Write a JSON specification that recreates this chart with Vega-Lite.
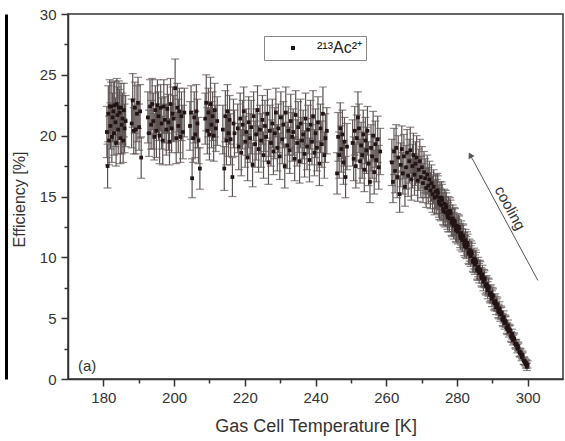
{
"$schema": "https://vega.github.io/schema/vega-lite/v6.json",
"width": 495,
"height": 365,
"autosize": {"type": "none"},
"padding": {"left": 68, "top": 14, "right": 2, "bottom": 62},
"background": "white",
"data": {"values": [
{"x":181.0,"y":20.3,"e":2.1},{"x":181.2,"y":17.5,"e":1.8},{"x":181.4,"y":21.8,"e":2.3},{"x":181.6,"y":19.6,"e":2.0},{"x":181.8,"y":22.4,"e":2.2},{"x":182.0,"y":20.8,"e":1.9},{"x":182.2,"y":22.4,"e":2.0},{"x":182.4,"y":19.9,"e":2.1},{"x":182.6,"y":21.5,"e":2.0},{"x":182.8,"y":22.0,"e":2.4},{"x":183.0,"y":20.2,"e":1.8},{"x":183.2,"y":22.5,"e":2.0},{"x":183.4,"y":21.1,"e":2.0},{"x":183.6,"y":19.4,"e":1.9},{"x":183.8,"y":22.6,"e":2.1},{"x":184.0,"y":21.7,"e":2.3},{"x":184.2,"y":20.5,"e":2.0},{"x":184.4,"y":22.3,"e":2.2},{"x":184.6,"y":21.9,"e":1.9},{"x":184.8,"y":19.8,"e":2.1},{"x":185.0,"y":22.3,"e":2.0},{"x":185.2,"y":20.9,"e":2.4},{"x":185.4,"y":21.4,"e":2.1},{"x":185.6,"y":19.6,"e":1.8},{"x":185.8,"y":22.1,"e":2.2},{"x":186.0,"y":20.6,"e":2.0},{"x":186.3,"y":21.2,"e":2.1},
{"x":188.0,"y":21.0,"e":2.0},{"x":188.3,"y":22.9,"e":2.2},{"x":188.6,"y":20.4,"e":1.9},{"x":188.9,"y":22.3,"e":2.1},{"x":189.2,"y":20.5,"e":2.0},{"x":189.5,"y":21.8,"e":2.3},{"x":189.8,"y":22.7,"e":2.1},{"x":190.1,"y":20.7,"e":1.9},{"x":190.4,"y":22.0,"e":2.2},{"x":190.7,"y":18.2,"e":1.7},
{"x":192.6,"y":21.5,"e":2.1},{"x":192.9,"y":20.2,"e":1.9},{"x":193.2,"y":22.4,"e":2.2},{"x":193.5,"y":20.9,"e":2.0},{"x":193.8,"y":22.6,"e":2.1},{"x":194.1,"y":21.2,"e":2.3},{"x":194.4,"y":19.9,"e":1.9},{"x":194.7,"y":22.1,"e":2.0},{"x":195.0,"y":20.4,"e":2.2},{"x":195.3,"y":22.5,"e":2.1},{"x":195.6,"y":21.6,"e":2.0},{"x":195.9,"y":20.0,"e":2.3},{"x":196.2,"y":22.3,"e":1.9},{"x":196.5,"y":21.0,"e":2.1},{"x":196.8,"y":19.6,"e":2.0},{"x":197.1,"y":22.4,"e":2.2},{"x":197.4,"y":21.3,"e":1.9},{"x":197.8,"y":20.5,"e":2.1},{"x":198.1,"y":22.2,"e":2.0},{"x":198.4,"y":21.1,"e":2.3},{"x":198.7,"y":19.5,"e":1.9},{"x":199.0,"y":22.6,"e":2.1},{"x":199.3,"y":20.6,"e":2.0},{"x":199.6,"y":21.8,"e":2.2},{"x":199.9,"y":21.4,"e":1.9},{"x":200.3,"y":23.9,"e":2.4},{"x":200.6,"y":19.8,"e":2.1},{"x":200.9,"y":22.3,"e":2.0},{"x":201.2,"y":20.8,"e":2.2},{"x":201.5,"y":22.0,"e":1.9},{"x":201.8,"y":19.9,"e":2.1},{"x":202.1,"y":21.6,"e":2.0},{"x":202.5,"y":20.3,"e":2.2},{"x":202.9,"y":21.9,"e":2.0},
{"x":204.5,"y":20.8,"e":2.0},{"x":204.8,"y":21.9,"e":2.2},{"x":205.1,"y":16.5,"e":1.6},{"x":205.4,"y":19.8,"e":2.0},{"x":205.7,"y":21.5,"e":2.1},{"x":206.0,"y":20.1,"e":1.9},{"x":206.3,"y":22.0,"e":2.2},{"x":206.6,"y":21.0,"e":2.0},{"x":206.9,"y":19.6,"e":1.9},{"x":207.3,"y":17.3,"e":1.7},
{"x":208.8,"y":21.4,"e":2.1},{"x":209.1,"y":22.7,"e":2.3},{"x":209.4,"y":20.4,"e":1.9},{"x":209.7,"y":21.9,"e":2.0},{"x":210.0,"y":20.1,"e":2.1},{"x":210.3,"y":22.6,"e":2.2},{"x":210.6,"y":20.9,"e":1.9},{"x":210.9,"y":21.6,"e":2.0},{"x":211.2,"y":20.0,"e":2.1},{"x":211.5,"y":22.1,"e":2.2},{"x":211.8,"y":20.6,"e":1.9},{"x":212.2,"y":21.2,"e":2.0},
{"x":213.8,"y":20.5,"e":2.0},{"x":214.2,"y":17.3,"e":1.8},{"x":214.5,"y":21.6,"e":2.1},{"x":214.8,"y":19.6,"e":2.0},{"x":215.1,"y":22.0,"e":2.2},{"x":215.4,"y":20.2,"e":1.9},{"x":215.7,"y":21.3,"e":2.0},{"x":216.0,"y":19.7,"e":2.1},{"x":216.5,"y":16.6,"e":1.6},{"x":216.8,"y":21.0,"e":2.0},{"x":217.1,"y":20.2,"e":1.9},
{"x":218.0,"y":20.6,"e":2.0},{"x":218.3,"y":19.1,"e":1.9},{"x":218.7,"y":21.4,"e":2.1},{"x":219.0,"y":18.6,"e":1.9},{"x":219.4,"y":20.9,"e":2.0},{"x":219.7,"y":22.0,"e":2.0},{"x":220.1,"y":19.5,"e":2.1},{"x":220.4,"y":20.3,"e":1.9},{"x":220.8,"y":18.2,"e":1.9},{"x":221.1,"y":21.1,"e":2.1},{"x":221.5,"y":19.8,"e":2.0},{"x":221.8,"y":20.7,"e":2.2},{"x":222.2,"y":17.6,"e":1.8},{"x":222.5,"y":21.6,"e":2.0},{"x":222.9,"y":19.3,"e":1.9},{"x":223.2,"y":20.1,"e":2.1},{"x":223.6,"y":22.1,"e":2.0},{"x":223.9,"y":18.9,"e":1.9},{"x":224.3,"y":20.5,"e":2.0},{"x":224.6,"y":19.6,"e":2.2},{"x":225.0,"y":21.3,"e":2.0},{"x":225.3,"y":18.4,"e":1.9},{"x":225.7,"y":20.8,"e":2.1},{"x":226.0,"y":19.9,"e":2.0},{"x":226.4,"y":21.8,"e":2.0},{"x":226.7,"y":17.8,"e":1.8},{"x":227.1,"y":20.4,"e":2.1},{"x":227.4,"y":19.4,"e":1.9},{"x":227.8,"y":21.0,"e":2.0},{"x":228.1,"y":18.7,"e":1.9},{"x":228.5,"y":20.2,"e":2.1},{"x":228.8,"y":21.9,"e":2.0},{"x":229.2,"y":19.0,"e":1.9},{"x":229.5,"y":20.6,"e":2.0},{"x":229.9,"y":18.3,"e":1.9},{"x":230.2,"y":21.5,"e":2.1},{"x":230.6,"y":19.7,"e":2.0},{"x":230.9,"y":20.9,"e":1.9},{"x":231.3,"y":17.5,"e":1.8},{"x":231.6,"y":21.9,"e":2.1},{"x":232.0,"y":19.2,"e":1.9},{"x":232.3,"y":20.4,"e":2.0},{"x":232.7,"y":18.8,"e":1.9},{"x":233.0,"y":21.2,"e":2.2},{"x":233.4,"y":19.9,"e":2.0},{"x":233.7,"y":20.3,"e":1.9},{"x":234.1,"y":18.1,"e":1.8},{"x":234.4,"y":21.7,"e":2.0},{"x":234.8,"y":19.4,"e":1.9},{"x":235.1,"y":20.7,"e":2.1},{"x":235.5,"y":17.9,"e":1.8},{"x":235.8,"y":21.0,"e":2.0},{"x":236.2,"y":19.6,"e":1.9},{"x":236.5,"y":20.1,"e":2.0},{"x":236.9,"y":18.5,"e":1.9},{"x":237.2,"y":21.4,"e":2.1},{"x":237.6,"y":19.1,"e":1.9},{"x":237.9,"y":20.5,"e":2.0},{"x":238.3,"y":18.0,"e":1.8},{"x":238.6,"y":20.9,"e":2.0},{"x":239.0,"y":19.5,"e":1.9},{"x":239.3,"y":21.6,"e":2.1},{"x":239.7,"y":18.6,"e":1.9},{"x":240.0,"y":20.2,"e":2.0},{"x":240.4,"y":19.0,"e":1.9},{"x":240.7,"y":21.1,"e":2.1},{"x":241.1,"y":17.7,"e":1.8},{"x":241.4,"y":20.6,"e":2.0},{"x":241.8,"y":19.3,"e":1.9},{"x":242.1,"y":21.8,"e":2.2},{"x":242.5,"y":18.4,"e":1.9},{"x":242.8,"y":19.8,"e":2.0},{"x":243.2,"y":20.4,"e":1.9},
{"x":246.1,"y":16.9,"e":1.7},{"x":246.4,"y":19.9,"e":2.0},{"x":246.7,"y":18.4,"e":1.9},{"x":247.0,"y":20.6,"e":2.1},{"x":247.3,"y":18.9,"e":1.9},{"x":247.6,"y":20.1,"e":2.0},{"x":247.9,"y":17.8,"e":1.8},{"x":248.2,"y":19.5,"e":2.0},{"x":248.5,"y":16.6,"e":1.7},{"x":248.9,"y":19.1,"e":1.9},
{"x":250.5,"y":19.4,"e":1.9},{"x":250.8,"y":18.1,"e":1.8},{"x":251.1,"y":20.4,"e":2.0},{"x":251.4,"y":17.5,"e":1.8},{"x":251.7,"y":19.8,"e":1.9},{"x":252.0,"y":21.5,"e":2.1},{"x":252.3,"y":20.6,"e":2.0},{"x":252.6,"y":17.9,"e":1.8},{"x":252.9,"y":19.2,"e":1.9},{"x":253.2,"y":18.4,"e":1.9},{"x":253.5,"y":20.1,"e":2.0},{"x":253.8,"y":17.2,"e":1.8},{"x":254.1,"y":19.6,"e":1.9},{"x":254.4,"y":18.8,"e":1.9},{"x":254.7,"y":20.4,"e":2.0},{"x":255.0,"y":17.7,"e":1.8},{"x":255.4,"y":16.2,"e":1.7},{"x":255.7,"y":19.0,"e":1.9},{"x":256.0,"y":18.3,"e":1.8},{"x":256.3,"y":20.0,"e":2.0},{"x":256.6,"y":17.0,"e":1.8},{"x":256.9,"y":19.3,"e":1.9},{"x":257.2,"y":18.0,"e":1.8},{"x":257.6,"y":19.7,"e":1.9},{"x":257.9,"y":17.4,"e":1.8},{"x":258.3,"y":18.7,"e":1.9},
{"x":261.6,"y":17.8,"e":1.9},{"x":261.9,"y":16.2,"e":1.7},{"x":262.2,"y":18.7,"e":1.9},{"x":262.5,"y":17.1,"e":1.8},{"x":262.8,"y":19.0,"e":1.9},{"x":263.1,"y":16.6,"e":1.7},{"x":263.4,"y":18.2,"e":1.8},{"x":263.8,"y":15.2,"e":1.5},{"x":264.1,"y":17.6,"e":1.8},{"x":264.4,"y":18.9,"e":1.9},{"x":264.7,"y":16.9,"e":1.7},{"x":265.0,"y":18.3,"e":1.8},{"x":265.3,"y":15.8,"e":1.6},{"x":265.6,"y":17.4,"e":1.8},{"x":265.9,"y":18.6,"e":1.9},{"x":266.2,"y":16.7,"e":1.7},{"x":266.5,"y":17.9,"e":1.8},{"x":266.8,"y":18.8,"e":1.9},{"x":267.1,"y":16.4,"e":1.7},{"x":267.4,"y":17.5,"e":1.8},{"x":267.7,"y":18.4,"e":1.8},{"x":268.0,"y":16.8,"e":1.7},{"x":268.3,"y":17.7,"e":1.8},{"x":268.6,"y":18.2,"e":1.8},{"x":268.9,"y":16.3,"e":1.7},{"x":269.2,"y":17.2,"e":1.7},{"x":269.5,"y":17.9,"e":1.8},{"x":269.8,"y":16.6,"e":1.7},{"x":270.1,"y":17.4,"e":1.7},{"x":270.4,"y":16.1,"e":1.6},{"x":270.7,"y":17.0,"e":1.7},{"x":271.0,"y":16.5,"e":1.6},{"x":271.3,"y":15.7,"e":1.6},{"x":271.6,"y":16.8,"e":1.6},{"x":271.9,"y":15.9,"e":1.5},{"x":272.2,"y":16.4,"e":1.5},{"x":272.5,"y":15.5,"e":1.5},{"x":272.8,"y":16.1,"e":1.5},{"x":273.1,"y":15.2,"e":1.5},{"x":273.4,"y":15.8,"e":1.4},{"x":273.7,"y":14.9,"e":1.4},{"x":274.0,"y":15.4,"e":1.4},
{"x":274.3,"y":15.0,"e":1.4},{"x":274.6,"y":15.3,"e":1.4},{"x":274.9,"y":14.6,"e":1.3},{"x":275.2,"y":14.9,"e":1.3},{"x":275.5,"y":14.3,"e":1.3},{"x":275.8,"y":14.7,"e":1.3},{"x":276.1,"y":14.0,"e":1.3},{"x":276.4,"y":14.4,"e":1.2},{"x":276.7,"y":13.7,"e":1.2},{"x":277.0,"y":14.1,"e":1.2},{"x":277.3,"y":13.5,"e":1.2},{"x":277.6,"y":13.8,"e":1.2},{"x":277.9,"y":13.2,"e":1.1},{"x":278.2,"y":13.6,"e":1.1},{"x":278.5,"y":12.9,"e":1.1},{"x":278.8,"y":13.2,"e":1.1},{"x":279.1,"y":12.6,"e":1.1},{"x":279.4,"y":12.9,"e":1.1},{"x":279.7,"y":12.3,"e":1.0},{"x":280.0,"y":12.6,"e":1.0},
{"x":280.3,"y":12.1,"e":1.0},{"x":280.6,"y":12.4,"e":1.0},{"x":280.9,"y":11.8,"e":1.0},{"x":281.2,"y":12.0,"e":1.0},{"x":281.5,"y":11.4,"e":0.95},{"x":281.8,"y":11.7,"e":0.95},{"x":282.1,"y":11.1,"e":0.95},{"x":282.4,"y":11.4,"e":0.9},{"x":282.7,"y":10.8,"e":0.9},{"x":283.0,"y":11.0,"e":0.9},{"x":283.3,"y":10.4,"e":0.9},{"x":283.6,"y":10.6,"e":0.9},{"x":283.9,"y":10.1,"e":0.85},{"x":284.2,"y":10.3,"e":0.85},{"x":284.5,"y":9.7,"e":0.85},{"x":284.8,"y":9.9,"e":0.85},{"x":285.1,"y":9.4,"e":0.8},{"x":285.4,"y":9.6,"e":0.8},{"x":285.7,"y":9.0,"e":0.8},{"x":286.0,"y":9.2,"e":0.8},{"x":286.3,"y":8.7,"e":0.8},{"x":286.6,"y":8.9,"e":0.75},{"x":286.9,"y":8.4,"e":0.75},{"x":287.2,"y":8.6,"e":0.75},{"x":287.5,"y":8.0,"e":0.75},{"x":287.8,"y":8.2,"e":0.7},{"x":288.1,"y":7.7,"e":0.7},{"x":288.4,"y":7.8,"e":0.7},{"x":288.7,"y":7.3,"e":0.7},{"x":289.0,"y":7.5,"e":0.7},{"x":289.3,"y":7.0,"e":0.65},{"x":289.6,"y":7.1,"e":0.65},{"x":289.9,"y":6.6,"e":0.65},{"x":290.2,"y":6.8,"e":0.6},{"x":290.5,"y":6.3,"e":0.6},{"x":290.8,"y":6.4,"e":0.6},{"x":291.1,"y":5.9,"e":0.6},{"x":291.4,"y":6.1,"e":0.55},{"x":291.7,"y":5.6,"e":0.55},{"x":292.0,"y":5.8,"e":0.55},{"x":292.3,"y":5.3,"e":0.55},{"x":292.6,"y":5.4,"e":0.5},{"x":292.9,"y":4.9,"e":0.5},{"x":293.2,"y":5.1,"e":0.5},{"x":293.5,"y":4.6,"e":0.5},{"x":293.8,"y":4.7,"e":0.45},{"x":294.1,"y":4.2,"e":0.45},{"x":294.4,"y":4.4,"e":0.45},{"x":294.7,"y":3.9,"e":0.45},{"x":295.0,"y":4.0,"e":0.4},{"x":295.3,"y":3.5,"e":0.4},{"x":295.6,"y":3.7,"e":0.4},{"x":295.9,"y":3.2,"e":0.4},{"x":296.2,"y":3.3,"e":0.4},{"x":296.5,"y":2.9,"e":0.35},{"x":296.8,"y":2.9,"e":0.35},{"x":297.1,"y":2.5,"e":0.35},{"x":297.4,"y":2.6,"e":0.35},{"x":297.7,"y":2.2,"e":0.35},{"x":298.0,"y":2.2,"e":0.3},{"x":298.3,"y":1.8,"e":0.3},{"x":298.6,"y":1.9,"e":0.3},{"x":298.9,"y":1.5,"e":0.3},{"x":299.2,"y":1.4,"e":0.3},{"x":299.5,"y":1.2,"e":0.3},{"x":299.8,"y":1.0,"e":0.3},{"x":300.0,"y":1.2,"e":0.3},
{"x":274.45,"y":15.5,"e":1.4},{"x":275.05,"y":14.4,"e":1.3},{"x":275.65,"y":14.9,"e":1.3},{"x":276.25,"y":13.8,"e":1.2},{"x":276.85,"y":14.3,"e":1.2},{"x":277.45,"y":13.3,"e":1.2},{"x":278.05,"y":13.8,"e":1.1},{"x":278.65,"y":12.8,"e":1.1},{"x":279.25,"y":13.0,"e":1.1},{"x":279.85,"y":12.2,"e":1.0},{"x":280.45,"y":12.5,"e":1.0},{"x":281.05,"y":11.6,"e":1.0},{"x":281.65,"y":11.8,"e":0.95},{"x":282.25,"y":10.9,"e":0.9},{"x":282.85,"y":11.2,"e":0.9},{"x":283.45,"y":10.3,"e":0.9},{"x":284.05,"y":10.5,"e":0.85},{"x":284.65,"y":9.6,"e":0.85},{"x":285.25,"y":9.8,"e":0.8},{"x":285.85,"y":8.9,"e":0.8},{"x":286.45,"y":9.0,"e":0.75},{"x":287.05,"y":8.3,"e":0.75},{"x":287.65,"y":8.3,"e":0.7},{"x":288.25,"y":7.6,"e":0.7},{"x":288.85,"y":7.6,"e":0.7},{"x":289.45,"y":6.9,"e":0.65},{"x":290.05,"y":6.9,"e":0.6},{"x":290.65,"y":6.2,"e":0.6},{"x":291.25,"y":6.2,"e":0.55},{"x":291.85,"y":5.5,"e":0.55},{"x":292.45,"y":5.5,"e":0.5},{"x":293.05,"y":4.8,"e":0.5},{"x":293.65,"y":4.8,"e":0.45},{"x":294.25,"y":4.1,"e":0.45},{"x":294.85,"y":4.1,"e":0.4},{"x":295.45,"y":3.4,"e":0.4},{"x":296.05,"y":3.4,"e":0.4},{"x":296.65,"y":2.8,"e":0.35},{"x":297.25,"y":2.7,"e":0.35},{"x":297.85,"y":2.1,"e":0.3},{"x":298.45,"y":2.0,"e":0.3},{"x":299.05,"y":1.5,"e":0.3},{"x":299.65,"y":1.3,"e":0.3}
]},
"layer": [
{"mark": {"type": "errorbar", "ticks": true, "size": 8, "thickness": 1.2, "color": "#5c5252"},
 "encoding": {
  "x": {"field": "x", "type": "quantitative", "axis": null},
  "y": {"field": "y", "type": "quantitative", "axis": null},
  "yError": {"field": "e"}}},
{"mark": {"type": "point", "shape": "square", "filled": true, "size": 14, "color": "#221414", "opacity": 1},
 "encoding": {
  "x": {"field": "x", "type": "quantitative",
   "scale": {"domain": [170, 310], "nice": false, "zero": false},
   "axis": {"orient": "bottom", "values": [180, 200, 220, 240, 260, 280, 300], "title": "Gas Cell Temperature [K]", "tickSize": 7, "labelPadding": 4, "labelFontSize": 15, "titleFontSize": 18, "domainWidth": 1.5, "tickWidth": 1.5, "titleY": 38, "labelFlush": false}},
  "y": {"field": "y", "type": "quantitative",
   "scale": {"domain": [0, 30], "nice": false, "zero": false},
   "axis": {"orient": "left", "values": [0, 5, 10, 15, 20, 25, 30], "title": "Efficiency [%]", "tickSize": 7, "labelPadding": 5, "labelFontSize": 15, "titleFontSize": 16, "domainWidth": 1.5, "tickWidth": 1.5, "titleX": -41, "titleY": 185, "labelFlush": false}},
  "shape": {"datum": "²¹³Ac²⁺", "type": "nominal", "scale": {"range": ["square"]},
   "legend": {"title": null, "orient": "none", "legendX": 196, "legendY": 22, "strokeColor": "#888", "fillColor": "white", "padding": 4, "symbolOffset": 17, "labelOffset": 16, "symbolSize": 16, "symbolFillColor": "#221414", "symbolStrokeColor": "#221414", "symbolStrokeWidth": 0, "labelFontSize": 16, "labelFont": "Liberation Sans", "labelColor": "#222"}}}},
{"data": {"values": [{}]},
 "mark": {"type": "rule", "color": "#555", "strokeWidth": 1},
 "encoding": {
  "x": {"datum": 302.9, "type": "quantitative", "axis": {"orient": "bottom", "values": [190, 210, 230, 250, 270, 290], "labels": false, "tickSize": 4, "tickWidth": 1.5, "domain": false, "title": null, "grid": false}},
  "y": {"datum": 8.1, "type": "quantitative", "axis": {"orient": "left", "values": [2.5, 7.5, 12.5, 17.5, 22.5, 27.5], "labels": false, "tickSize": 4, "tickWidth": 1.5, "domain": false, "title": null, "grid": false}},
  "x2": {"datum": 283.6},
  "y2": {"datum": 18.5}}},
{"data": {"values": [{}]},
 "mark": {"type": "point", "shape": "triangle-up", "filled": true, "size": 45, "color": "#555", "angle": 331.6, "opacity": 1},
 "encoding": {
  "x": {"datum": 283.75, "type": "quantitative", "axis": null},
  "y": {"datum": 18.4, "type": "quantitative", "axis": null}}},
{"data": {"values": [{}]},
 "mark": {"type": "text", "angle": 61.6, "fontSize": 15, "color": "#333", "font": "Liberation Sans", "align": "center", "baseline": "middle"},
 "encoding": {
  "x": {"datum": 295.0, "type": "quantitative", "axis": null},
  "y": {"datum": 14.05, "type": "quantitative", "axis": null},
  "text": {"value": "cooling"}}},
{"data": {"values": [{}]},
 "mark": {"type": "text", "fontSize": 15, "color": "#333", "font": "Liberation Sans", "align": "center", "baseline": "middle"},
 "encoding": {
  "x": {"datum": 175.4, "type": "quantitative", "axis": null},
  "y": {"datum": 1.05, "type": "quantitative", "axis": {"orient": "left", "offset": 62, "domainColor": "#000", "domainWidth": 3, "ticks": false, "labels": false, "title": null, "grid": false}},
  "text": {"value": "(a)"}}}
],
"resolve": {"axis": {"x": "independent", "y": "independent"}},
"config": {
 "font": "Liberation Sans",
 "view": {"stroke": "#333", "strokeWidth": 1.5},
 "axis": {"labelFont": "Liberation Sans", "titleFont": "Liberation Sans", "labelColor": "#333", "titleColor": "#333", "domainColor": "#333", "tickColor": "#333", "grid": false, "titleFontWeight": "normal"}
}
}
